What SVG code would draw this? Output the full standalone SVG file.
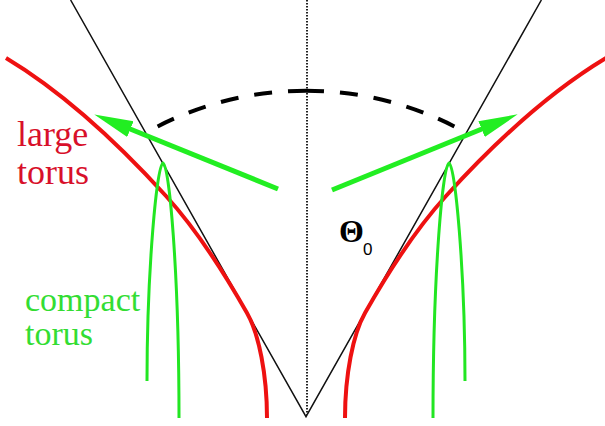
<svg xmlns="http://www.w3.org/2000/svg" width="605" height="426" viewBox="0 0 605 426">
<style>
.cone{fill:none;stroke:#111;stroke-width:1.5}
.axis{fill:none;stroke:#222;stroke-width:2;stroke-dasharray:1.5 1.5}
.arc{fill:none;stroke:#000;stroke-width:4;stroke-dasharray:18 16}
.large{fill:none;stroke:#ee1111;stroke-width:4}
.compact{fill:none;stroke:#22e622;stroke-width:3}
.arrow{fill:none;stroke:#22ee22;stroke-width:5;marker-end:url(#ah)}
.red{fill:#d8102a}
.green{fill:#33dd33}
</style>
<defs>
<marker id="ah" markerUnits="userSpaceOnUse" markerWidth="40" markerHeight="20" viewBox="0 0 40 20" refX="1" refY="10" orient="auto">
<path d="M0,1.5 L39,10 L0,18.5 Z" fill="#22ee22"/>
</marker>
</defs>
<rect width="605" height="426" fill="#fff"/>
<g id="cone">
<path class="cone" d="M70.6,0 L306,416.7 L541.4,0"/>
<path class="axis" d="M307,0 L307,415"/>
</g>
<g id="angle-arc">
<path class="arc" d="M306,90.7 A326,326 0 0 0 152.9,128.9"/>
<path class="arc" d="M306,90.7 A326,326 0 0 1 459.1,128.9"/>
</g>
<g id="large-torus">
<path class="large" d="M6,58 C76,100 136,163 166,196 C196,229 226,276 247,313 C259,334 267,375 267,418"/>
<path class="large" d="M606,58 C536,100 476,163 446,196 C416,229 386,276 365,313 C353,334 345,375 345,418"/>
</g>
<g id="compact-torus">
<path class="compact" d="M147,381 C147,270 157,163 163,163 C169,163 179,270 179,418"/>
<path class="compact" d="M465,381 C465,270 455,163 449,163 C443,163 433,270 433,418"/>
</g>
<g id="connectors">
<path class="arrow" d="M278,189 L129.5,128.7"/>
<path class="arrow" d="M332,190 L482.5,128.7"/>
</g>
<g id="labels" font-family="Liberation Serif, Times New Roman, serif">
<text class="red" x="17" y="146" font-size="36">large</text>
<text class="red" x="17" y="184" font-size="36">torus</text>
<text class="green" x="25" y="311" font-size="34">compact</text>
<text class="green" x="25" y="345" font-size="34">torus</text>
<text x="339" y="242" font-size="32" font-weight="bold" fill="#000">Θ</text>
<text x="363" y="255" font-family="Liberation Sans, Arial, sans-serif" font-size="17" fill="#000">0</text>
</g>
</svg>
